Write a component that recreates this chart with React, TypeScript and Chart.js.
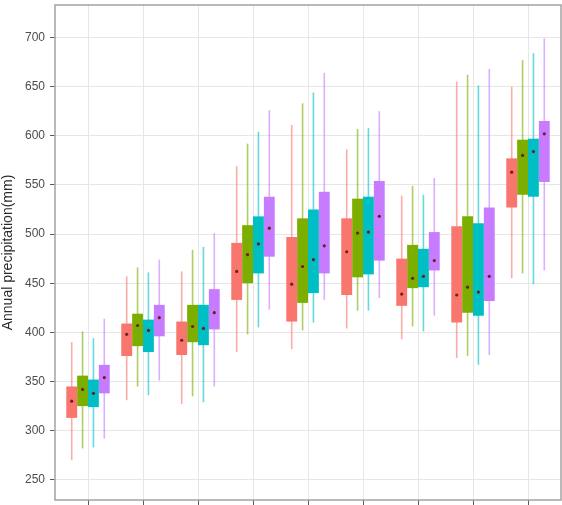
import React, { useEffect, useRef } from 'react';
import { Chart, registerables } from 'chart.js';

Chart.register(...registerables);

// Nine site groups along x, four series per group
const GROUPS = [0, 1, 2, 3, 4, 5, 6, 7, 8];
const Y_TICKS = [250, 300, 350, 400, 450, 500, 550, 600, 650, 700];
const SERIES_COLORS = ['#F8766D', '#7CAE00', '#00BFC4', '#C77CFF'];

// Series 1 (red): whisker low, lower hinge, mean, upper hinge, whisker high
const RED_LOW = [270, 331, 327, 380, 383, 404, 393, 374, 455];
const RED_Q1 = [313, 376, 377, 433, 411, 438, 427, 410, 527];
const RED_MEAN = [330, 398, 392, 462, 449, 482, 439, 438, 563];
const RED_Q3 = [345, 409, 411, 491, 497, 516, 475, 508, 577];
const RED_HIGH = [390, 457, 462, 569, 611, 586, 539, 655, 650];

// Series 2 (green)
const GREEN_LOW = [282, 345, 335, 398, 402, 422, 406, 376, 460];
const GREEN_Q1 = [325, 386, 390, 450, 430, 456, 445, 420, 540];
const GREEN_MEAN = [342, 407, 406, 479, 467, 501, 455, 446, 580];
const GREEN_Q3 = [356, 419, 428, 509, 516, 536, 489, 518, 596];
const GREEN_HIGH = [401, 466, 484, 592, 633, 607, 549, 662, 677];

// Series 3 (teal)
const TEAL_LOW = [283, 336, 329, 405, 410, 422, 401, 367, 449];
const TEAL_Q1 = [324, 380, 387, 460, 440, 459, 446, 417, 538];
const TEAL_MEAN = [338, 402, 404, 490, 474, 502, 457, 441, 584];
const TEAL_Q3 = [352, 413, 428, 518, 525, 538, 485, 511, 597];
const TEAL_HIGH = [394, 461, 487, 604, 644, 608, 540, 651, 684];

// Series 4 (purple)
const PURPLE_LOW = [292, 351, 345, 423, 433, 435, 417, 377, 463];
const PURPLE_Q1 = [338, 396, 403, 477, 460, 473, 463, 432, 553];
const PURPLE_MEAN = [354, 415, 420, 506, 488, 518, 473, 457, 602];
const PURPLE_Q3 = [367, 428, 444, 538, 543, 554, 502, 527, 615];
const PURPLE_HIGH = [414, 474, 501, 626, 664, 625, 557, 668, 699];

const SERIES = [
  { low: RED_LOW, q1: RED_Q1, mean: RED_MEAN, q3: RED_Q3, high: RED_HIGH },
  { low: GREEN_LOW, q1: GREEN_Q1, mean: GREEN_MEAN, q3: GREEN_Q3, high: GREEN_HIGH },
  { low: TEAL_LOW, q1: TEAL_Q1, mean: TEAL_MEAN, q3: TEAL_Q3, high: TEAL_HIGH },
  { low: PURPLE_LOW, q1: PURPLE_Q1, mean: PURPLE_MEAN, q3: PURPLE_Q3, high: PURPLE_HIGH },
];

const GROUP_WIDTH = 0.79; // share of each group slot taken by the dodged boxes
const FONT = "'Liberation Sans', Arial, sans-serif";

// Grey frame around the plotting panel
const panelBorder = {
  id: 'panelBorder',
  afterDatasetsDraw(chart: any) {
    const { ctx, chartArea } = chart;
    ctx.save();
    ctx.strokeStyle = '#a3a3a3';
    ctx.lineWidth = 1.5;
    ctx.strokeRect(chartArea.left, chartArea.top, chartArea.right - chartArea.left, chartArea.bottom - chartArea.top);
    ctx.restore();
  },
};

const clearPadding = (scale: any) => {
  scale.paddingTop = 0;
  scale.paddingBottom = 0;
  scale.paddingLeft = 0;
  scale.paddingRight = 0;
};

export default function App() {
  const canvasRef = useRef<HTMLCanvasElement | null>(null);

  useEffect(() => {
    if (!canvasRef.current) return;
    const n = SERIES.length;
    const datasets: any[] = [];

    SERIES.forEach((s, k) => {
      const color = SERIES_COLORS[k];
      // whiskers: thin floating bars from low to high
      datasets.push({
        type: 'bar',
        data: GROUPS.map((g, i) => ({ x: g, y: [s.low[i], s.high[i]] })),
        backgroundColor: color + '99',
        stack: 's' + k,
        categoryPercentage: GROUP_WIDTH,
        barPercentage: 0.15,
        order: 2,
      });
      // boxes: lower hinge to upper hinge
      datasets.push({
        type: 'bar',
        data: GROUPS.map((g, i) => ({ x: g, y: [s.q1[i], s.q3[i]] })),
        backgroundColor: color,
        stack: 's' + k,
        categoryPercentage: GROUP_WIDTH,
        barPercentage: 1,
        order: 1,
      });
      // mean markers at the centre of each dodged box
      datasets.push({
        type: 'scatter',
        data: GROUPS.map((g, i) => ({ x: g + (k - (n - 1) / 2) * (GROUP_WIDTH / n), y: s.mean[i] })),
        backgroundColor: '#6e1f1f',
        borderWidth: 0,
        pointRadius: 1.6,
        order: 0,
      });
    });

    const chart = new Chart(canvasRef.current, {
      type: 'bar',
      data: { datasets },
      plugins: [panelBorder],
      options: {
        animation: false,
        responsive: false,
        layout: { autoPadding: false, padding: { left: 0, top: 5, right: 1, bottom: 0 } },
        plugins: { legend: { display: false }, tooltip: { enabled: false } },
        scales: {
          x: {
            type: 'linear',
            min: -0.6,
            max: 8.6,
            offset: false,
            grid: { offset: false, color: '#e6e6e6', lineWidth: 1, tickColor: '#5a5a5a', tickLength: 5, drawTicks: true },
            border: { display: false },
            ticks: { display: false },
            afterBuildTicks: (scale: any) => {
              scale.ticks = GROUPS.map((v) => ({ value: v }));
            },
            afterFit: (scale: any) => {
              scale.height = 5;
              clearPadding(scale);
            },
          },
          y: {
            type: 'linear',
            min: 229.5,
            max: 733,
            stacked: false,
            grid: { color: '#e6e6e6', lineWidth: 1, tickColor: '#5a5a5a', tickLength: 5 },
            border: { display: false },
            ticks: {
              color: '#4d4d4d',
              padding: 5,
              font: { family: FONT, size: 12 },
            },
            title: {
              display: true,
              text: 'Annual precipitation(mm)',
              color: '#2b2b2b',
              padding: 0,
              font: { family: FONT, size: 14 },
            },
            afterBuildTicks: (scale: any) => {
              scale.ticks = Y_TICKS.map((v) => ({ value: v }));
            },
            afterFit: (scale: any) => {
              scale.width = 55;
              clearPadding(scale);
            },
          },
        },
      } as any,
    });

    return () => chart.destroy();
  }, []);

  return (
    <div style={{ position: 'absolute', left: 0, top: 0, width: 562, height: 505, background: '#ffffff' }}>
      <canvas ref={canvasRef} width={562} height={505} style={{ display: 'block' }} />
    </div>
  );
}
